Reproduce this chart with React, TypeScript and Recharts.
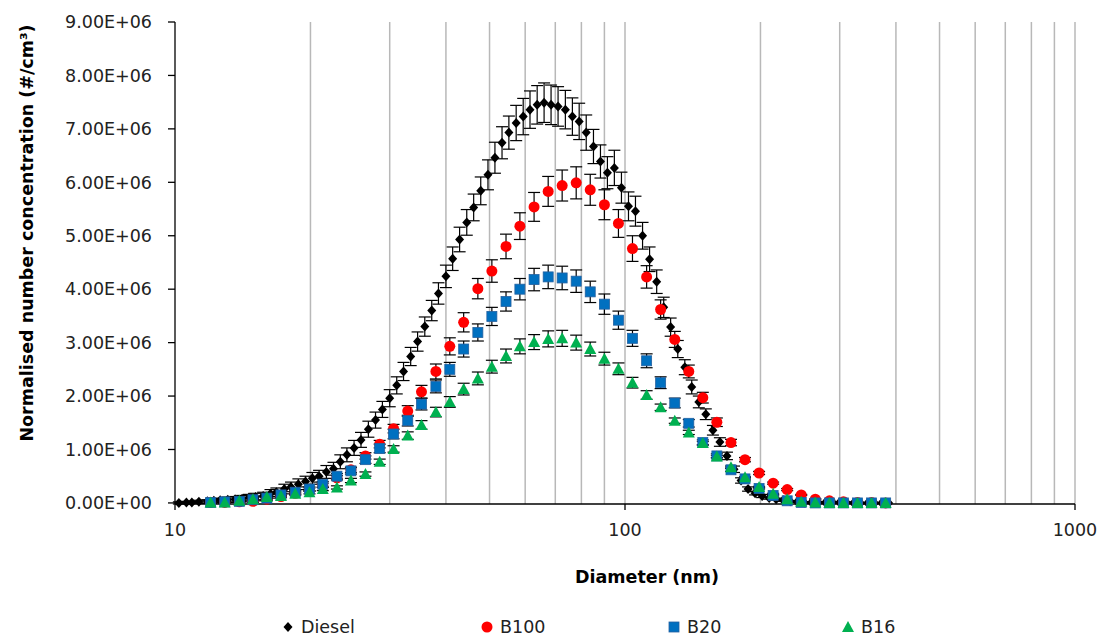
import React from 'react';
import { ScatterChart, Scatter, XAxis, YAxis, ErrorBar, ReferenceLine } from 'recharts';

// Diesel was sampled at 64 channels per decade (nm)
const dieselDiameters = [
  10.2, 10.6, 10.9, 11.3, 11.8, 12.2, 12.6, 13.1, 13.6, 14.1,
  14.6, 15.1, 15.7, 16.3, 16.8, 17.5, 18.1, 18.8, 19.5, 20.2,
  20.9, 21.7, 22.5, 23.3, 24.1, 25.0, 25.9, 26.9, 27.9, 28.9,
  30.0, 31.1, 32.2, 33.4, 34.6, 35.9, 37.2, 38.5, 40.0, 41.4,
  42.9, 44.5, 46.1, 47.8, 49.6, 51.4, 53.3, 55.2, 57.3, 59.4,
  61.5, 63.8, 66.1, 68.5, 71.0, 73.7, 76.4, 79.1, 82.0, 85.1,
  88.2, 91.4, 94.7, 98.2, 101.8, 105.5, 109.4, 113.4, 117.6, 121.9,
  126.3, 131.0, 135.8, 140.7, 145.9, 151.2, 156.8, 162.5, 168.5, 174.7,
  181.1, 187.7, 194.6, 201.7, 209.1, 216.7, 224.7, 232.9, 241.4, 250.3,
  259.5, 269.0, 278.8, 289.0, 299.6, 310.6, 322.0, 333.8, 346.0, 358.7,
  371.8, 385.4,
];

// values in millions of particles per cm3
const dieselValues = [
  0.00, 0.01, 0.01, 0.02, 0.03, 0.04, 0.05, 0.06, 0.07, 0.08,
  0.10, 0.11, 0.13, 0.17, 0.20, 0.26, 0.30, 0.35, 0.40, 0.46,
  0.50, 0.58, 0.64, 0.77, 0.90, 1.03, 1.18, 1.38, 1.55, 1.75,
  1.96, 2.20, 2.46, 2.74, 3.02, 3.30, 3.60, 3.92, 4.24, 4.57,
  4.93, 5.25, 5.53, 5.84, 6.14, 6.46, 6.74, 6.93, 7.11, 7.23,
  7.36, 7.45, 7.49, 7.45, 7.42, 7.36, 7.23, 7.14, 6.93, 6.67,
  6.39, 6.18, 6.27, 5.90, 5.55, 5.46, 5.00, 4.56, 4.14, 3.66,
  3.29, 2.88, 2.54, 2.17, 1.89, 1.66, 1.36, 1.14, 0.88, 0.63,
  0.42, 0.26, 0.18, 0.13, 0.09, 0.07, 0.05, 0.03, 0.02, 0.01,
  0.01, 0.01, 0.01, 0.01, 0.01, 0.01, 0.00, 0.00, 0.00, 0.00,
  0.00, 0.00,
];

const dieselErrors = [
  0.02, 0.02, 0.02, 0.03, 0.03, 0.04, 0.04, 0.05, 0.05, 0.06,
  0.06, 0.07, 0.07, 0.08, 0.08, 0.09, 0.09, 0.10, 0.10, 0.11,
  0.11, 0.12, 0.12, 0.13, 0.13, 0.14, 0.14, 0.15, 0.15, 0.15,
  0.16, 0.16, 0.17, 0.17, 0.18, 0.18, 0.19, 0.20, 0.21, 0.22,
  0.23, 0.24, 0.25, 0.26, 0.28, 0.29, 0.30, 0.31, 0.33, 0.34,
  0.35, 0.36, 0.37, 0.37, 0.37, 0.36, 0.35, 0.34, 0.33, 0.32,
  0.31, 0.30, 0.33, 0.29, 0.27, 0.28, 0.25, 0.23, 0.22, 0.19,
  0.17, 0.16, 0.14, 0.13, 0.11, 0.10, 0.09, 0.08, 0.07, 0.06,
  0.05, 0.04, 0.03, 0.03, 0.02, 0.02, 0.02, 0.01, 0.01, 0.01,
  0.01, 0.01, 0.01, 0.01, 0.01, 0.01, 0.00, 0.00, 0.00, 0.00,
  0.00, 0.00,
];

// blends at 32 channels per decade (nm)
const blendDiameters = [
  12.0, 12.9, 13.9, 14.9, 16.0, 17.2, 18.5, 19.9, 21.3, 22.9,
  24.6, 26.5, 28.5, 30.6, 32.9, 35.3, 38.0, 40.8, 43.8, 47.1,
  50.6, 54.4, 58.4, 62.8, 67.5, 72.5, 77.9, 83.7, 90.0, 96.7,
  103.9, 111.7, 120.0, 129.0, 138.6, 148.9, 160.0, 172.0, 184.8, 198.6,
  213.4, 229.3, 246.4, 264.8, 284.6, 305.8, 328.6, 353.1, 379.5,
];

const b100Values = [
  0.01, 0.01, 0.02, 0.03, 0.07, 0.12, 0.18, 0.25, 0.33, 0.47,
  0.62, 0.88, 1.10, 1.39, 1.72, 2.08, 2.46, 2.93, 3.38, 4.01,
  4.34, 4.80, 5.18, 5.54, 5.83, 5.94, 5.99, 5.86, 5.58, 5.23,
  4.76, 4.23, 3.62, 3.06, 2.46, 1.97, 1.51, 1.13, 0.81, 0.56,
  0.37, 0.25, 0.15, 0.07, 0.04, 0.02, 0.01, 0.01, 0.00,
];
const b100Errors = [
  0.01, 0.01, 0.01, 0.02, 0.02, 0.02, 0.03, 0.03, 0.04, 0.04,
  0.05, 0.06, 0.07, 0.08, 0.10, 0.12, 0.14, 0.16, 0.18, 0.19,
  0.21, 0.23, 0.25, 0.27, 0.28, 0.29, 0.30, 0.29, 0.28, 0.26,
  0.24, 0.21, 0.18, 0.15, 0.12, 0.10, 0.08, 0.06, 0.04, 0.03,
  0.02, 0.02, 0.01, 0.01, 0.01, 0.00, 0.00, 0.00, 0.00,
];

const b20Values = [
  0.01, 0.02, 0.03, 0.06, 0.09, 0.15, 0.20, 0.26, 0.35, 0.50,
  0.60, 0.81, 1.02, 1.29, 1.54, 1.85, 2.18, 2.50, 2.88, 3.19,
  3.49, 3.77, 4.00, 4.18, 4.23, 4.21, 4.15, 3.95, 3.72, 3.42,
  3.08, 2.66, 2.25, 1.87, 1.49, 1.13, 0.88, 0.62, 0.45, 0.27,
  0.14, 0.04, 0.01, 0.00, 0.00, 0.00, 0.00, 0.00, 0.00,
];
const b20Errors = [
  0.01, 0.01, 0.01, 0.02, 0.02, 0.03, 0.03, 0.04, 0.05, 0.05,
  0.06, 0.07, 0.08, 0.09, 0.10, 0.11, 0.12, 0.13, 0.15, 0.16,
  0.17, 0.18, 0.20, 0.21, 0.22, 0.22, 0.21, 0.20, 0.19, 0.17,
  0.15, 0.13, 0.11, 0.09, 0.07, 0.05, 0.04, 0.03, 0.02, 0.01,
  0.01, 0.00, 0.00, 0.00, 0.00, 0.00, 0.00, 0.00, 0.00,
];

const b16Values = [
  0.01, 0.01, 0.04, 0.07, 0.11, 0.13, 0.17, 0.20, 0.26, 0.29,
  0.42, 0.54, 0.77, 1.01, 1.26, 1.46, 1.70, 1.89, 2.13, 2.33,
  2.55, 2.75, 2.93, 3.01, 3.07, 3.08, 3.00, 2.88, 2.70, 2.51,
  2.25, 2.02, 1.79, 1.54, 1.32, 1.12, 0.87, 0.67, 0.48, 0.30,
  0.17, 0.07, 0.02, 0.01, 0.00, 0.00, 0.00, 0.00, 0.00,
];
const b16Errors = [
  0.01, 0.01, 0.01, 0.01, 0.02, 0.02, 0.02, 0.03, 0.03, 0.03,
  0.04, 0.04, 0.05, 0.06, 0.07, 0.08, 0.09, 0.10, 0.11, 0.12,
  0.12, 0.13, 0.14, 0.14, 0.15, 0.15, 0.14, 0.13, 0.12, 0.11,
  0.10, 0.08, 0.06, 0.05, 0.04, 0.03, 0.02, 0.02, 0.01, 0.01,
  0.01, 0.00, 0.00, 0.00, 0.00, 0.00, 0.00, 0.00, 0.00,
];

const xTicks = [10, 100, 1000];
const yTicks = [0, 1e6, 2e6, 3e6, 4e6, 5e6, 6e6, 7e6, 8e6, 9e6];
const gridLines = [20, 30, 40, 50, 60, 70, 80, 90, 100, 200, 300, 400, 500, 600, 700, 800, 900, 1000];

const FONT = '"DejaVu Sans", sans-serif';

const toPoints = (xs: number[], ys: number[], es: number[]) =>
  xs.map((x, i) => ({ x, y: ys[i] * 1e6, err: es[i] * 1e6 }));

const dieselData = toPoints(dieselDiameters, dieselValues, dieselErrors);
const b100Data = toPoints(blendDiameters, b100Values, b100Errors);
const b20Data = toPoints(blendDiameters, b20Values, b20Errors);
const b16Data = toPoints(blendDiameters, b16Values, b16Errors);

const Diamond = ({ cx, cy }: any) => (
  <polygon points={`${cx},${cy - 5} ${cx + 4.5},${cy} ${cx},${cy + 5} ${cx - 4.5},${cy}`} fill="#000" />
);
const Dot = ({ cx, cy }: any) => <circle cx={cx} cy={cy} r={5.5} fill="#ff0000" />;
const Square = ({ cx, cy }: any) => (
  <rect x={cx - 5} y={cy - 5} width={10} height={10} fill="#0070c0" stroke="#2360a0" strokeWidth={0.8} />
);
const Triangle = ({ cx, cy }: any) => (
  <polygon points={`${cx},${cy - 6} ${cx + 6},${cy + 5} ${cx - 6},${cy + 5}`} fill="#00b050" />
);

const legendItems = [
  { name: 'Diesel', Marker: Diamond, left: 288 },
  { name: 'B100', Marker: Dot, left: 487 },
  { name: 'B20', Marker: Square, left: 674 },
  { name: 'B16', Marker: Triangle, left: 848 },
];

const formatY = (v: number) => (v === 0 ? '0.00E+00' : `${(v / 1e6).toFixed(2)}E+06`);

export default function App() {
  return (
    <div style={{ position: 'absolute', left: 0, top: 0, width: 1102, height: 636, background: '#fff', fontFamily: FONT }}>
      <ScatterChart width={1102} height={636} margin={{ top: 22, right: 27, bottom: 92, left: 0 }}>
        <XAxis
          dataKey="x"
          type="number"
          scale="log"
          domain={[10, 1000]}
          ticks={xTicks}
          allowDataOverflow
          height={40}
          tickSize={6}
          tickMargin={14}
          axisLine={{ stroke: '#000', strokeWidth: 1.3 }}
          tickLine={{ stroke: '#000', strokeWidth: 1.3 }}
          tick={{ fill: '#222', fontSize: 17.5, fontFamily: FONT }}
          label={{
            content: () => (
              <text x={647} y={577} textAnchor="middle" dominantBaseline="central"
                fontFamily={FONT} fontSize={17.5} fontWeight="bold" fill="#000">
                Diameter (nm)
              </text>
            ),
          }}
        />
        <YAxis
          dataKey="y"
          type="number"
          domain={[0, 9e6]}
          ticks={yTicks}
          width={175}
          tickSize={7}
          tickMargin={16}
          tickFormatter={formatY}
          axisLine={{ stroke: '#000', strokeWidth: 1.3 }}
          tickLine={{ stroke: '#000', strokeWidth: 1.3 }}
          tick={{ fill: '#222', fontSize: 17.5, fontFamily: FONT }}
          label={{
            content: () => (
              <text x={27} y={233} transform="rotate(-90 27 233)" textAnchor="middle" dominantBaseline="central"
                fontFamily={FONT} fontSize={17.5} fontWeight="bold" fill="#000">
                Normalised number concentration (#/cm³)
              </text>
            ),
          }}
        />

        {/* log minor gridlines */}
        {gridLines.map((g) => (
          <ReferenceLine key={g} x={g} stroke="#b8b8b8" strokeWidth={1.5} />
        ))}

        <Scatter data={dieselData} shape={<Diamond />} isAnimationActive={false}>
          <ErrorBar dataKey="err" direction="y" width={6} stroke="#000" strokeWidth={1.2} />
        </Scatter>
        <Scatter data={b100Data} shape={<Dot />} isAnimationActive={false}>
          <ErrorBar dataKey="err" direction="y" width={6} stroke="#000" strokeWidth={1.2} />
        </Scatter>
        <Scatter data={b20Data} shape={<Square />} isAnimationActive={false}>
          <ErrorBar dataKey="err" direction="y" width={6} stroke="#000" strokeWidth={1.2} />
        </Scatter>
        <Scatter data={b16Data} shape={<Triangle />} isAnimationActive={false}>
          <ErrorBar dataKey="err" direction="y" width={6} stroke="#000" strokeWidth={1.2} />
        </Scatter>
      </ScatterChart>

      {legendItems.map(({ name, Marker, left }) => (
        <div key={name} style={{ position: 'absolute', left: left - 8, top: 615, height: 24, display: 'flex', alignItems: 'center' }}>
          <svg width={16} height={24}>
            <Marker cx={8} cy={12} />
          </svg>
          <span style={{ marginLeft: 5, fontSize: 17.5, color: '#222', fontFamily: FONT }}>{name}</span>
        </div>
      ))}
    </div>
  );
}
